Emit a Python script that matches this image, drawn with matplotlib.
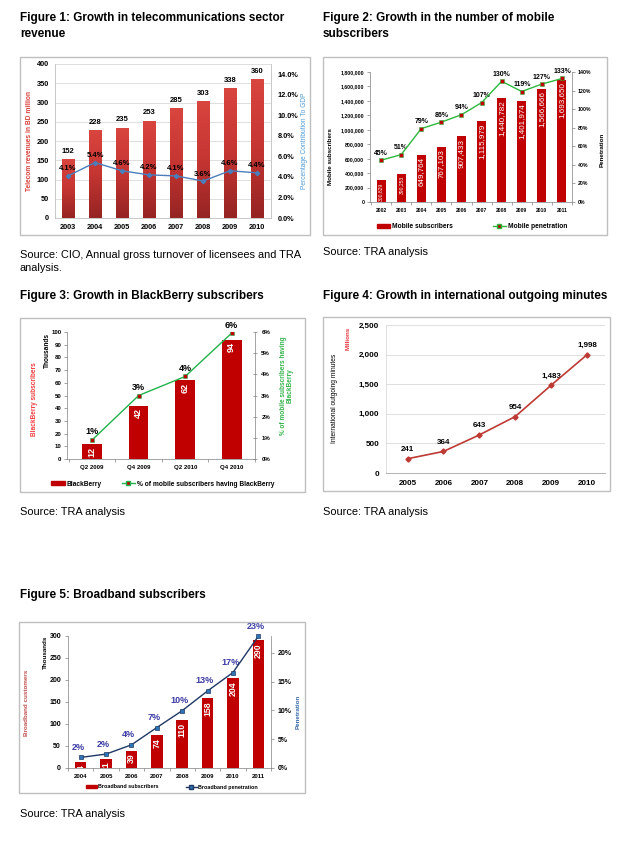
import numpy as np
import matplotlib
matplotlib.use("Agg")
import matplotlib.pyplot as plt
from matplotlib.colors import LinearSegmentedColormap
from matplotlib.patches import Rectangle
from matplotlib.lines import Line2D
from matplotlib.ticker import FuncFormatter, MultipleLocator, FixedLocator

plt.rcParams['font.family'] = ['Liberation Sans', 'DejaVu Sans']

# ---------------- data ----------------
fig1_years = ['2003', '2004', '2005', '2006', '2007', '2008', '2009', '2010']
fig1_revenue = [152, 228, 235, 253, 285, 303, 338, 360]
fig1_gdp_pct = [4.1, 5.4, 4.6, 4.2, 4.1, 3.6, 4.6, 4.4]

fig2_years = ['2002', '2003', '2004', '2005', '2006', '2007', '2008', '2009', '2010', '2011']
fig2_subscribers = [300829, 390253, 649764, 767103, 907433, 1115979, 1440782, 1401974, 1566666, 1693650]
fig2_penetration = [45, 51, 79, 86, 94, 107, 130, 119, 127, 133]

fig3_quarters = ['Q2 2009', 'Q4 2009', 'Q2 2010', 'Q4 2010']
fig3_blackberry = [12, 42, 62, 94]
fig3_share_pct = [0.9, 3.0, 3.9, 5.95]

fig4_years = ['2005', '2006', '2007', '2008', '2009', '2010']
fig4_minutes = [241, 364, 643, 954, 1483, 1998]

fig5_years = ['2004', '2005', '2006', '2007', '2008', '2009', '2010', '2011']
fig5_broadband = [14, 21, 39, 74, 110, 158, 204, 290]
fig5_penetration = [1.84, 2.42, 4.03, 7.03, 9.97, 13.4, 16.6, 22.9]

# ---------------- layout helpers ----------------
W, H = 640, 850
fig = plt.figure(figsize=(W / 100, H / 100), dpi=100)
fig.patch.set_facecolor('white')


def axrect(x0, y0, x1, y1):
    return fig.add_axes([x0 / W, 1 - y1 / H, (x1 - x0) / W, (y1 - y0) / H])


def ftext(x, y, s, **kw):
    return fig.text(x / W, 1 - y / H, s, **kw)


def box(x0, y0, x1, y1):
    fig.patches.append(Rectangle((x0 / W, 1 - y1 / H), (x1 - x0) / W, (y1 - y0) / H,
                                 transform=fig.transFigure, fill=False,
                                 edgecolor='#bfbfbf', lw=1.0))


TITLE = dict(fontsize=8.5, fontweight='bold', va='center', ha='left', color='black')
SRC = dict(fontsize=7.9, va='center', ha='left', color='black')

# ---------------- Figure 1 ----------------
ftext(20, 18, 'Figure 1: Growth in telecommunications sector', **TITLE)
ftext(20, 34, 'revenue', **TITLE)
box(20, 57, 310, 235)
ax1 = axrect(54.5, 64, 270.5, 218)
x1 = np.arange(len(fig1_years))
bars1 = ax1.bar(x1, fig1_revenue, width=0.45, color='#b83230', zorder=2)
cmap1 = LinearSegmentedColormap.from_list('r1', ['#952423', '#c53532', '#d9453f'])
grad = np.linspace(0, 1, 200).reshape(-1, 1)
for b in bars1:
    im = ax1.imshow(grad, extent=[b.get_x(), b.get_x() + b.get_width(), 0, b.get_height()],
                    aspect='auto', cmap=cmap1, origin='lower', zorder=2.1)
    im.set_clip_path(b)
ax1.set_xlim(-0.5, len(fig1_years) - 0.5)
ax1.set_ylim(0, 400)
ax1.yaxis.set_major_locator(MultipleLocator(50))
ax1.grid(axis='y', color='#d9d9d9', lw=0.6, zorder=0)
ax1.set_axisbelow(True)
ax1.set_xticks(x1)
ax1.set_xticklabels(fig1_years)
ax1.tick_params(length=0, labelsize=5.3, pad=4)
for lab in ax1.get_xticklabels() + ax1.get_yticklabels():
    lab.set_fontweight('bold')
for s in ['top']:
    ax1.spines[s].set_visible(False)
for s in ['left', 'right', 'bottom']:
    ax1.spines[s].set_color('#bfbfbf')
    ax1.spines[s].set_linewidth(0.6)
for xi, v in zip(x1, fig1_revenue):
    ax1.annotate(f'{v}', (xi, v), xytext=(0, 3), textcoords='offset points',
                 ha='center', va='bottom', fontsize=5.5, fontweight='bold')
ax1b = ax1.twinx()
ax1b.set_ylim(0, 0.15)
ax1b.yaxis.set_major_locator(FixedLocator(np.arange(0, 0.141, 0.02)))
ax1b.yaxis.set_major_formatter(FuncFormatter(lambda v, p: f'{v * 100:.1f}%'))
ax1b.tick_params(length=0, labelsize=5.3, pad=5)
for lab in ax1b.get_yticklabels():
    lab.set_fontweight('bold')
for s in ax1b.spines.values():
    s.set_visible(False)
gdp = [v / 100 for v in fig1_gdp_pct]
ax1b.plot(x1, gdp, color='#4a7ebb', lw=1.0, marker='D', ms=2.2, zorder=5)
for xi, v in zip(x1, fig1_gdp_pct):
    ax1b.annotate(f'{v:.1f}%', (xi, v / 100), xytext=(0, 2.5), textcoords='offset points',
                  ha='center', va='bottom', fontsize=5.5, fontweight='bold')
ftext(30, 141, 'Telecom revenues in BD million', rotation=90, ha='center', va='center',
      fontsize=4.8, fontweight='bold', color='#d9403a')
ftext(304, 141, 'Percentage Contribution To GDP', rotation=90, ha='center', va='center',
      fontsize=4.8, color='#4f9bd9')
ftext(20, 255, 'Source: CIO, Annual gross turnover of licensees and TRA', **SRC)
ftext(20, 268, 'analysis.', **SRC)

# ---------------- Figure 2 ----------------
ftext(323, 18, 'Figure 2: Growth in the number of mobile', **TITLE)
ftext(323, 34, 'subscribers', **TITLE)
box(323, 57, 607, 235)
ax2 = axrect(370, 72, 572, 202)
x2 = np.arange(len(fig2_years))
ax2.bar(x2, fig2_subscribers, width=0.45, color='#c00000', zorder=2)
ax2.set_xlim(-0.55, len(fig2_years) - 0.5)
ax2.set_ylim(0, 1800000)
ax2.yaxis.set_major_locator(MultipleLocator(200000))
ax2.yaxis.set_major_formatter(FuncFormatter(lambda v, p: f'{int(v):,}'))
ax2.set_xticks(x2)
ax2.set_xticklabels(fig2_years)
ax2.set_xticks(np.arange(-0.5, len(fig2_years), 1), minor=True)
ax2.tick_params(axis='x', which='major', length=0, labelsize=3.6, pad=4)
ax2.tick_params(axis='x', which='minor', length=2, width=0.5, color='#808080')
ax2.tick_params(axis='y', length=2, width=0.5, color='#808080', labelsize=3.7, pad=2)
for lab in ax2.get_xticklabels() + ax2.get_yticklabels():
    lab.set_fontweight('bold')
ax2.spines['top'].set_visible(False)
ax2.spines['right'].set_visible(False)
for s in ['left', 'bottom']:
    ax2.spines[s].set_color('#808080')
    ax2.spines[s].set_linewidth(0.5)
for xi, v in zip(x2, fig2_subscribers):
    fs = 3.6 if v < 500000 else 5.8
    ax2.annotate(f'{v:,}', (xi, v), xytext=(0, -1.5), textcoords='offset points',
                 ha='center', va='top', rotation=90, fontsize=fs, color='white', zorder=4)
ax2b = ax2.twinx()
ax2b.set_ylim(0, 1.40)
ax2b.yaxis.set_major_locator(MultipleLocator(0.2))
ax2b.yaxis.set_major_formatter(FuncFormatter(lambda v, p: f'{v * 100:.0f}%'))
ax2b.tick_params(axis='y', length=2, width=0.5, color='#808080', labelsize=3.7, pad=2)
for lab in ax2b.get_yticklabels():
    lab.set_fontweight('bold')
for s in ['top', 'left', 'bottom']:
    ax2b.spines[s].set_visible(False)
ax2b.spines['right'].set_color('#808080')
ax2b.spines['right'].set_linewidth(0.5)
pen2 = [v / 100 for v in fig2_penetration]
ax2b.plot(x2, pen2, color='#2db83d', lw=1.0, marker='s', ms=2.4,
          mfc='#c00000', mec='#2db83d', mew=0.4, zorder=5)
for xi, v in zip(x2, fig2_penetration):
    ax2b.annotate(f'{v}%', (xi, v / 100), xytext=(0, 2.5), textcoords='offset points',
                  ha='center', va='bottom', fontsize=5.0, fontweight='bold')
ftext(330, 157, 'Mobile subscribers', rotation=90, ha='center', va='center',
      fontsize=4.5, fontweight='bold')
ftext(602, 150, 'Penetration', rotation=90, ha='center', va='center',
      fontsize=4.5, fontweight='bold')
h2 = [Rectangle((0, 0), 1, 1, color='#c00000'),
      Line2D([], [], color='#2db83d', lw=1.0, marker='s', ms=2.4, mfc='#c00000', mec='#2db83d')]
fig.legend(h2, ['Mobile subscribers', 'Mobile penetration'], loc='center',
           bbox_to_anchor=(472 / W, 1 - 227 / H), ncol=2, frameon=False,
           prop=dict(size=4.8, weight='bold'), handlelength=2.0, handleheight=0.6,
           columnspacing=6, handletextpad=0.3)
ftext(323, 252, 'Source: TRA analysis', **SRC)

# ---------------- Figure 3 ----------------
ftext(20, 296, 'Figure 3: Growth in BlackBerry subscribers', **TITLE)
box(20, 318, 305, 492)
ax3 = axrect(67, 332, 255, 459)
x3 = np.arange(len(fig3_quarters))
ax3.bar(x3, fig3_blackberry, width=0.42, color='#c00000', zorder=2)
ax3.set_xlim(-0.54, len(fig3_quarters) - 0.5)
ax3.set_ylim(0, 100)
ax3.yaxis.set_major_locator(MultipleLocator(10))
ax3.set_xticks(x3)
ax3.set_xticklabels(fig3_quarters)
ax3.set_xticks(np.arange(-0.5, len(fig3_quarters), 1), minor=True)
ax3.tick_params(axis='x', which='major', length=0, labelsize=4.4, pad=4)
ax3.tick_params(axis='x', which='minor', length=2, width=0.5, color='#808080')
ax3.tick_params(axis='y', length=2, width=0.5, color='#808080', labelsize=4.4, pad=2)
for lab in ax3.get_xticklabels() + ax3.get_yticklabels():
    lab.set_fontweight('bold')
ax3.spines['top'].set_visible(False)
ax3.spines['right'].set_visible(False)
for s in ['left', 'bottom']:
    ax3.spines[s].set_color('#808080')
    ax3.spines[s].set_linewidth(0.5)
for xi, v in zip(x3, fig3_blackberry):
    ax3.annotate(f'{v}', (xi, v), xytext=(0, -2), textcoords='offset points',
                 ha='center', va='top', rotation=90, fontsize=6.5, fontweight='bold',
                 color='white', zorder=4)
ax3b = ax3.twinx()
ax3b.set_ylim(0, 0.06)
ax3b.yaxis.set_major_locator(MultipleLocator(0.01))
ax3b.yaxis.set_major_formatter(FuncFormatter(lambda v, p: f'{v * 100:.0f}%'))
ax3b.tick_params(axis='y', direction='inout', length=3, width=0.5, color='#808080',
                 labelsize=4.4, pad=3)
for lab in ax3b.get_yticklabels():
    lab.set_fontweight('bold')
for s in ['top', 'left', 'bottom']:
    ax3b.spines[s].set_visible(False)
ax3b.spines['right'].set_color('#808080')
ax3b.spines['right'].set_linewidth(0.5)
share3 = [v / 100 for v in fig3_share_pct]
ax3b.plot(x3, share3, color='#22b14c', lw=1.0, marker='s', ms=2.6,
          mfc='#c00000', mec='#22b14c', mew=0.4, zorder=5)
for xi, v in zip(x3, fig3_share_pct):
    ax3b.annotate(f'{v:.0f}%', (xi, v / 100), xytext=(0, 2.5), textcoords='offset points',
                  ha='center', va='bottom', fontsize=6.5, fontweight='bold')
ftext(35, 399, 'BlackBerry subscribers', rotation=90, ha='center', va='center',
      fontsize=4.7, fontweight='bold', color='#f03c3c')
ftext(47, 350, 'Thousands', rotation=90, ha='center', va='center',
      fontsize=4.7, fontweight='bold', color='black')
ftext(287, 386, '% of mobile subscribers having\nBlackBerry', rotation=90, ha='center',
      va='center', fontsize=4.7, fontweight='bold', color='#33b34a', linespacing=1.0,
      multialignment='center')
h3 = [Rectangle((0, 0), 1, 1, color='#c00000'),
      Line2D([], [], color='#22b14c', lw=1.0, marker='s', ms=2.6, mfc='#c00000', mec='#22b14c')]
fig.legend(h3, ['BlackBerry', '% of mobile subscribers having BlackBerry'], loc='center',
           bbox_to_anchor=(163 / W, 1 - 484 / H), ncol=2, frameon=False,
           prop=dict(size=4.8, weight='bold'), handlelength=2.0, handleheight=0.6,
           columnspacing=3, handletextpad=0.3)
ftext(20, 512, 'Source: TRA analysis', **SRC)

# ---------------- Figure 4 ----------------
ftext(323, 296, 'Figure 4: Growth in international outgoing minutes', **TITLE)
box(323, 317, 610, 491)
ax4 = axrect(386, 325, 605, 473)
x4 = np.arange(len(fig4_years))
ax4.plot(x4, fig4_minutes, color='#be3a34', lw=1.2, marker='D', ms=2.6, zorder=5)
ax4.set_xlim(-0.6, len(fig4_years) - 0.5)
ax4.set_ylim(0, 2500)
ax4.yaxis.set_major_locator(MultipleLocator(500))
ax4.yaxis.set_major_formatter(FuncFormatter(lambda v, p: f'{int(v):,}'))
ax4.grid(axis='y', color='#d9d9d9', lw=0.6, zorder=0)
ax4.set_axisbelow(True)
ax4.set_xticks(x4)
ax4.set_xticklabels(fig4_years)
ax4.tick_params(length=0, labelsize=5.8, pad=5)
for lab in ax4.get_xticklabels() + ax4.get_yticklabels():
    lab.set_fontweight('bold')
ax4.spines['top'].set_visible(False)
ax4.spines['right'].set_visible(False)
ax4.spines['left'].set_color('#d9d9d9')
ax4.spines['left'].set_linewidth(0.6)
ax4.spines['bottom'].set_color('#a6a6a6')
ax4.spines['bottom'].set_linewidth(0.6)
for xi, v in zip(x4, fig4_minutes):
    ax4.annotate(f'{v:,}', (xi, v), xytext=(0, 4), textcoords='offset points',
                 ha='center', va='bottom', fontsize=5.8, fontweight='bold')
ftext(335, 398, 'International outgoing minutes', rotation=90, ha='center', va='center',
      fontsize=4.8, color='black')
ftext(348, 338, 'Millions', rotation=90, ha='center', va='center',
      fontsize=4.5, fontweight='bold', color='#e8323c')
ftext(323, 512, 'Source: TRA analysis', **SRC)

# ---------------- Figure 5 ----------------
ftext(20, 595, 'Figure 5: Broadband subscribers', **TITLE)
box(19, 622, 305, 793)
ax5 = axrect(68, 636, 271, 768)
x5 = np.arange(len(fig5_years))
ax5.bar(x5, fig5_broadband, width=0.45, color='#c00000', zorder=2)
ax5.set_xlim(-0.5, len(fig5_years) - 0.5)
ax5.set_ylim(0, 300)
ax5.yaxis.set_major_locator(MultipleLocator(50))
ax5.set_xticks(x5)
ax5.set_xticklabels(fig5_years)
ax5.set_xticks(np.arange(-0.5, len(fig5_years), 1), minor=True)
ax5.tick_params(axis='x', which='major', length=0, labelsize=4.3, pad=4)
ax5.tick_params(axis='x', which='minor', length=2, width=0.5, color='#808080')
ax5.tick_params(axis='y', length=2, width=0.5, color='#808080', labelsize=5.0, pad=3)
for lab in ax5.get_xticklabels() + ax5.get_yticklabels():
    lab.set_fontweight('bold')
ax5.spines['top'].set_visible(False)
ax5.spines['right'].set_visible(False)
for s in ['left', 'bottom']:
    ax5.spines[s].set_color('#808080')
    ax5.spines[s].set_linewidth(0.5)
for xi, v in zip(x5, fig5_broadband):
    ax5.annotate(f'{v}', (xi, v), xytext=(0, -2), textcoords='offset points',
                 ha='center', va='top', rotation=90, fontsize=6.3, fontweight='bold',
                 color='white', zorder=4, annotation_clip=False, clip_on=True)
ax5b = ax5.twinx()
ax5b.set_ylim(0, 0.2295)
ax5b.yaxis.set_major_locator(MultipleLocator(0.05))
ax5b.yaxis.set_major_formatter(FuncFormatter(lambda v, p: f'{v * 100:.0f}%'))
ax5b.tick_params(axis='y', length=2, width=0.5, color='#808080', labelsize=5.0, pad=3)
for lab in ax5b.get_yticklabels():
    lab.set_fontweight('bold')
for s in ['top', 'left', 'bottom']:
    ax5b.spines[s].set_visible(False)
ax5b.spines['right'].set_color('#808080')
ax5b.spines['right'].set_linewidth(0.5)
pen5 = [v / 100 for v in fig5_penetration]
ax5b.plot(x5, pen5, color='#1f3864', lw=1.0, marker='s', ms=3.0,
          mfc='#2e75b6', mec='#1f3864', mew=0.5, zorder=5, clip_on=False)
for xi, v in zip(x5, fig5_penetration):
    ax5b.annotate(f'{v:.0f}%', (xi, v / 100), xytext=(-2, 4), textcoords='offset points',
                  ha='center', va='bottom', fontsize=6.5, fontweight='bold', color='#3b3ba3')
ftext(27, 703, 'Broadband customers', rotation=90, ha='center', va='center',
      fontsize=4.5, fontweight='bold', color='#c0504d')
ftext(45, 652, 'Thousands', rotation=90, ha='center', va='center',
      fontsize=4.5, fontweight='bold', color='black')
ftext(298, 712, 'Penetration', rotation=90, ha='center', va='center',
      fontsize=4.5, fontweight='bold', color='#3366aa')
h5 = [Rectangle((0, 0), 1, 1, color='#c00000'),
      Line2D([], [], color='#1f3864', lw=1.0, marker='s', ms=3.0, mfc='#2e75b6', mec='#1f3864')]
fig.legend(h5, ['Broadband subscribers', 'Broadband penetration'], loc='center',
           bbox_to_anchor=(172 / W, 1 - 787 / H), ncol=2, frameon=False,
           prop=dict(size=3.9, weight='bold'), handlelength=2.0, handleheight=0.6,
           columnspacing=5, handletextpad=0.3)
ftext(20, 814, 'Source: TRA analysis', **SRC)

fig.savefig('out.png', dpi=100, facecolor='white')
